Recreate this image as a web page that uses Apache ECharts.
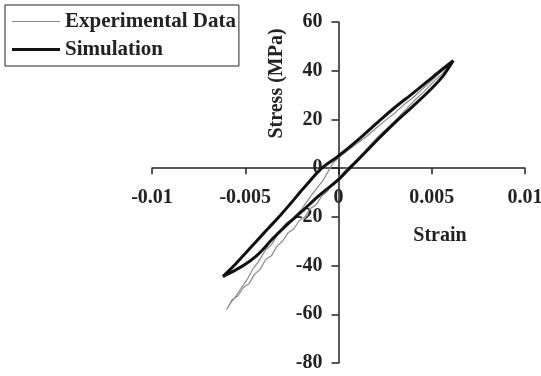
<!DOCTYPE html>
<html>
<head>
<meta charset="utf-8">
<script src="https://cdn.jsdelivr.net/npm/echarts@6/dist/echarts.min.js"></script>
<style>
  html, body { margin: 0; padding: 0; background: #fff; }
  #main { width: 541px; height: 376px; }
</style>
</head>
<body>
<div id="main"></div>
<script>
// tick values
var xTicks = [-0.01, -0.005, 0, 0.005, 0.01];
var yTicks = [-80, -60, -40, -20, 0, 20, 40, 60];

// simulation loop: loading branch then unloading branch
var simStrain = [-0.0062, -0.0056, -0.0050, -0.0044, -0.0040, -0.0036, -0.0028, -0.0020, -0.0010, 0.0000, 0.0006, 0.0014, 0.0022, 0.0030, 0.0040, 0.0049, 0.0056, 0.00615,
                 0.0055, 0.0048, 0.0040, 0.0030, 0.0022, 0.0010, 0.0000, -0.0009, -0.0019, -0.0026, -0.0031, -0.0038, -0.0044, -0.0050, -0.0056, -0.0062];
var simStress = [-44.5, -42.2, -39.5, -36.0, -33.0, -29.5, -23.5, -18.0, -11.0, -4.7, 0.0, 6.2, 12.5, 18.5, 25.5, 32.0, 37.8, 44.1,
                 40.2, 35.8, 30.8, 24.8, 19.5, 11.3, 5.0, 0.0, -8.5, -14.8, -19.2, -25.0, -30.0, -35.0, -40.0, -44.5];

// experimental loop (jagged measured data)
var expStrain = [-0.0060, -0.0057, -0.0054, -0.0051, -0.0048, -0.0045, -0.0042, -0.0039, -0.0036, -0.0033, -0.0030, -0.0027, -0.0024, -0.0021, -0.0018,
                 -0.0015, -0.0012, -0.0009, -0.0006, -0.0003, 0.0000, 0.0003, 0.0006, 0.0010, 0.0013, 0.0017, 0.0022, 0.0027, 0.0031, 0.0036, 0.0041,
                 0.0046, 0.0051, 0.0056, 0.0060,
                 0.0055, 0.0050, 0.0045, 0.0040, 0.0035, 0.0030, 0.0025, 0.0021, 0.0015, 0.0008, 0.0001, -0.0003, -0.0008, -0.0015, -0.0020, -0.0025,
                 -0.0028, -0.0032, -0.0036, -0.0039, -0.0043, -0.0046, -0.0049, -0.0052, -0.0055, -0.0058, -0.0060];
var expStress = [-58.0, -54.0, -52.5, -49.0, -47.5, -43.5, -41.5, -37.5, -36.0, -32.0, -30.0, -26.5, -25.0, -21.5, -20.0,
                 -16.5, -15.0, -11.5, -9.5, -6.5, -4.0, -1.5, 0.8, 3.5, 6.0, 9.5, 13.5, 17.0, 20.0, 24.0, 28.0,
                 31.5, 35.5, 39.0, 43.0,
                 39.5, 36.0, 32.5, 29.0, 26.0, 22.5, 19.5, 17.0, 13.0, 9.0, 5.0, 2.1, -4.7, -11.6, -17.1, -21.0,
                 -22.5, -26.5, -31.5, -33.5, -38.5, -41.5, -45.8, -49.0, -52.5, -55.5, -58.0];

function pairs(xs, ys) {
    return xs.map(function (x, i) { return [x, ys[i]]; });
}

var font = 'Liberation Serif';
var gridLeft = 152, gridTop = 22, gridW = 373, gridH = 341;
// axes sit at zero, so shift them in from the grid edges
var yZeroOffset = gridH * (0 - yTicks[0]) / (yTicks[yTicks.length - 1] - yTicks[0]);
var xZeroOffset = gridW * (0 - xTicks[0]) / (xTicks[xTicks.length - 1] - xTicks[0]);

var chart = echarts.init(document.getElementById('main'));
chart.setOption({
    animation: false,
    legend: {
        orient: 'vertical',
        left: 5,
        top: 5,
        padding: [6, 3, 6, 7],
        itemGap: 7,
        itemWidth: 48,
        itemHeight: 14,
        symbolKeepAspect: true,
        borderColor: '#222',
        borderWidth: 1,
        selectedMode: false,
        textStyle: { fontFamily: font, fontWeight: 'bold', fontSize: 21, color: '#222' },
        data: [
            { name: 'Experimental Data', icon: 'path://M0,0 H48 V1.2 H0 Z', itemStyle: { color: '#8a8a8a' } },
            { name: 'Simulation', icon: 'path://M0,0 H48 V3 H0 Z', itemStyle: { color: '#111' } }
        ]
    },
    grid: { left: gridLeft, top: gridTop, width: gridW, height: gridH, containLabel: false, outerBoundsMode: 'none' },
    xAxis: {
        type: 'value',
        position: 'bottom',
        offset: -yZeroOffset,
        min: xTicks[0],
        max: xTicks[xTicks.length - 1],
        interval: 0.005,
        axisLine: { onZero: false, lineStyle: { color: '#222', width: 1.5 } },
        axisTick: { show: true, inside: false, length: 6, lineStyle: { color: '#222', width: 1.5 } },
        axisLabel: {
            margin: 20,
            fontFamily: font, fontWeight: 'bold', fontSize: 20, color: '#222',
            formatter: function (v) { return String(Math.round(v * 1000) / 1000); }
        },
        splitLine: { show: false }
    },
    yAxis: {
        type: 'value',
        position: 'left',
        offset: -xZeroOffset,
        min: yTicks[0],
        max: yTicks[yTicks.length - 1],
        interval: 20,
        axisLine: { show: true, onZero: false, lineStyle: { color: '#222', width: 1.5 } },
        axisTick: { show: true, inside: false, length: 7, lineStyle: { color: '#222', width: 1.5 } },
        axisLabel: { margin: 16, fontFamily: font, fontWeight: 'bold', fontSize: 20, color: '#222' },
        splitLine: { show: false }
    },
    graphic: [
        {
            type: 'text', x: 277, y: 83.5, rotation: Math.PI / 2,
            style: { text: 'Stress (MPa)', font: 'bold 20px "Liberation Serif"', fill: '#222', textAlign: 'center', textVerticalAlign: 'middle' }
        },
        {
            type: 'text', x: 440, y: 236,
            style: { text: 'Strain', font: 'bold 20px "Liberation Serif"', fill: '#222', textAlign: 'center', textVerticalAlign: 'middle' }
        }
    ],
    series: [
        {
            name: 'Experimental Data',
            type: 'line',
            symbol: 'none',
            smooth: false,
            lineStyle: { color: '#8a8a8a', width: 1.2 },
            itemStyle: { color: '#8a8a8a' },
            data: pairs(expStrain, expStress)
        },
        {
            name: 'Simulation',
            type: 'line',
            symbol: 'none',
            smooth: 0.3,
            lineStyle: { color: '#111', width: 3 },
            itemStyle: { color: '#111' },
            data: pairs(simStrain, simStress)
        }
    ]
});
</script>
</body>
</html>
